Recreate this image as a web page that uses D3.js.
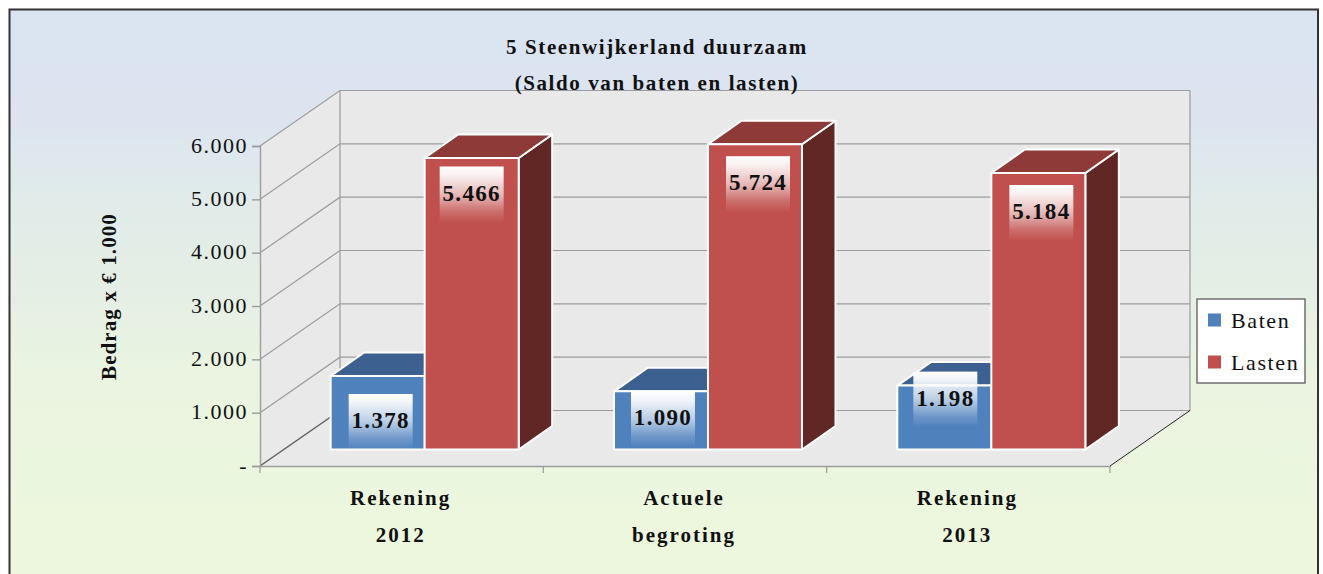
<!DOCTYPE html>
<html lang="nl">

<head>
    <meta charset="UTF-8">
    <script src="https://cdn.jsdelivr.net/npm/d3@7/dist/d3.min.js" charset="utf-8"></script>
    <title>5 Steenwijkerland duurzaam</title>
    <style>
        html, body { margin: 0; padding: 0; background: #fff; overflow: hidden; }
        svg { display: block; }
        text { font-family: "Liberation Serif", serif; fill: #111; }
    </style>
</head>

<body>
    <script>
        var categories = ["Rekening 2012", "Actuele begroting", "Rekening 2013"];
        var seriesNames = ["Baten", "Lasten"];
        var baten = [1378, 1090, 1198];
        var lasten = [5466, 5724, 5184];
        var yTicks = [0, 1000, 2000, 3000, 4000, 5000, 6000];
        var titleLines = ["5 Steenwijkerland duurzaam", "(Saldo van baten en lasten)"];
        var yTitle = "Bedrag x € 1.000";

        var width = 1323;
        var height = 574;

        // the 3d box: front plane of the axis, back wall offset, bar planes
        var wall = { dx: 80, dy: -55.5 };
        var barFront = { dx: 23, dy: -16.5 };
        var barDepth = { dx: 33.5, dy: -23.5 };
        var colors = {
            Baten: { front: "#4f81bd", top: "#3c6190", side: "#2f4d72" },
            Lasten: { front: "#c0504d", top: "#8e3a38", side: "#602725" }
        };
        // the data labels were moved by hand in the original chart
        var labelNudge = {
            Baten: [[3, 44], [2, 26], [1, 12]],
            Lasten: [[0, 34.5], [3, 38], [3, 38]]
        };

        var nl = d3.formatLocale({ decimal: ",", thousands: ".", grouping: [3], currency: ["", ""] });
        var fmt = nl.format(",d");

        var x0 = d3.scaleBand().domain(categories).range([260, 1110]);
        var x1 = d3.scaleBand().domain(seriesNames).range([0, x0.bandwidth()]).paddingOuter(0.507);
        var y = d3.scaleLinear().domain([0, 6000]).range([466, 146]);

        var svg = d3.select("body").append("svg").attr("width", width).attr("height", height);
        var defs = svg.append("defs");

        var bg = defs.append("linearGradient").attr("id", "bg").attr("x1", 0).attr("x2", 0).attr("y1", 0).attr("y2", 1);
        [[0, "#dae5f1"], [0.12, "#dbe4f0"], [0.15, "#dde3ef"], [0.19, "#dde4ef"], [0.215, "#dde7ee"], [0.33, "#e1ece9"],
         [0.468, "#e6efe4"], [0.58, "#eaf4e1"], [0.85, "#ecf7dd"]].forEach(function (s) {
            bg.append("stop").attr("offset", s[0]).attr("stop-color", s[1]);
        });

        var fade = defs.append("linearGradient").attr("id", "fade").attr("x1", 0).attr("x2", 0).attr("y1", 0).attr("y2", 1);
        [[0, 1], [0.15, 0.92], [0.5, 0.6], [0.8, 0.18], [1, 0]].forEach(function (s) {
            fade.append("stop").attr("offset", s[0]).attr("stop-color", "#fff").attr("stop-opacity", s[1]);
        });

        svg.append("rect").attr("x", 9.5).attr("y", 9.5).attr("width", 1308.5).attr("height", 620)
            .attr("fill", "url(#bg)").attr("stroke", "#333").attr("stroke-width", 2);

        // walls and floor
        var xL = x0.range()[0], xR = x0.range()[1];
        function pts(a) { return a.map(function (p) { return p.join(","); }).join(" "); }
        var wallFill = "#e9e9e9";
        svg.append("polygon").attr("fill", wallFill).attr("points", pts([
            [xL, y(6000)], [xL + wall.dx, y(6000) + wall.dy], [xL + wall.dx, y(0) + wall.dy], [xL, y(0)]]));
        svg.append("polygon").attr("fill", wallFill).attr("points", pts([
            [xL + wall.dx, y(6000) + wall.dy], [xR + wall.dx, y(6000) + wall.dy], [xR + wall.dx, y(0) + wall.dy], [xL + wall.dx, y(0) + wall.dy]]));
        svg.append("polygon").attr("fill", wallFill).attr("points", pts([
            [xL, y(0)], [xL + wall.dx, y(0) + wall.dy], [xR + wall.dx, y(0) + wall.dy], [xR, y(0)]]));

        // gridlines
        var grid = svg.append("g").attr("fill", "none").attr("stroke", "#9c9c9c").attr("stroke-width", 1.2);
        yTicks.forEach(function (t) {
            grid.append("polyline").attr("points", pts([[xL, y(t)], [xL + wall.dx, y(t) + wall.dy], [xR + wall.dx, y(t) + wall.dy]]));
        });
        grid.append("line").attr("x1", xL + wall.dx).attr("x2", xL + wall.dx).attr("y1", y(6000) + wall.dy).attr("y2", y(0) + wall.dy);
        grid.append("line").attr("x1", xR + wall.dx).attr("x2", xR + wall.dx).attr("y1", y(6000) + wall.dy).attr("y2", y(0) + wall.dy);
        svg.append("line").attr("x1", xL).attr("y1", y(0)).attr("x2", xL + wall.dx).attr("y2", y(0) + wall.dy).attr("stroke", "#666").attr("stroke-width", 1.2);
        svg.append("line").attr("x1", xR).attr("y1", y(0)).attr("x2", xR + wall.dx).attr("y2", y(0) + wall.dy).attr("stroke", "#222").attr("stroke-width", 1);

        // y axis
        var yAxis = d3.axisLeft(y).tickValues(yTicks).tickSize(8).tickPadding(4).tickFormat(function (d) {
            return d === 0 ? "-" : fmt(d);
        });
        var yG = svg.append("g").attr("transform", "translate(" + xL + ",0)").call(yAxis);
        yG.selectAll("line,path").attr("stroke", "#9c9c9c").attr("stroke-width", 1.4);
        yG.selectAll("text").style("font-size", "22px").style("letter-spacing", "1.5px").style("font-family", '"Liberation Serif", serif').attr("fill", "#222").attr("dy", "0.28em");

        // x axis
        var xAxis = d3.axisBottom(x0).tickSize(0).tickFormat("");
        var xG = svg.append("g").attr("transform", "translate(0," + y(0) + ")").call(xAxis);
        xG.select("path").attr("stroke", "#9c9c9c").attr("stroke-width", 1.6);
        xG.selectAll(".tick").remove();
        var xEdges = categories.map(function (c) { return x0(c); }).concat([xR]);
        svg.append("g").selectAll("line").data(xEdges).enter().append("line")
            .attr("x1", function (d) { return d; }).attr("x2", function (d) { return d; })
            .attr("y1", y(0)).attr("y2", y(0) + 7).attr("stroke", "#9c9c9c").attr("stroke-width", 1.2);

        // bars
        var rows = [];
        categories.forEach(function (c, i) {
            rows.push({ cat: c, name: "Baten", value: baten[i], i: i });
            rows.push({ cat: c, name: "Lasten", value: lasten[i], i: i });
        });
        function bx(d) { return x0(d.cat) + x1(d.name) + barFront.dx; }
        var base = y(0) + barFront.dy;
        function by(d) { return y(d.value) + barFront.dy; }
        var bw = x1.bandwidth();

        var bars = svg.append("g").selectAll("g").data(rows).enter().append("g")
            .attr("stroke", "#fff").attr("stroke-width", 2).attr("stroke-linejoin", "round");
        bars.append("polygon").attr("fill", function (d) { return colors[d.name].side; }).attr("points", function (d) {
            var r = bx(d) + bw;
            return pts([[r, by(d)], [r + barDepth.dx, by(d) + barDepth.dy], [r + barDepth.dx, base + barDepth.dy], [r, base]]);
        });
        bars.append("polygon").attr("fill", function (d) { return colors[d.name].top; }).attr("points", function (d) {
            var l = bx(d);
            return pts([[l, by(d)], [l + barDepth.dx, by(d) + barDepth.dy], [l + bw + barDepth.dx, by(d) + barDepth.dy], [l + bw, by(d)]]);
        });
        bars.append("rect").attr("fill", function (d) { return colors[d.name].front; })
            .attr("x", bx).attr("y", by).attr("width", bw).attr("height", function (d) { return base - by(d); });

        // data labels with the white fading box
        var labels = svg.append("g").selectAll("g").data(rows).enter().append("g")
            .attr("transform", function (d) {
                var n = labelNudge[d.name][d.i];
                return "translate(" + (bx(d) + bw / 2 + n[0]) + "," + (by(d) + n[1]) + ")";
            });
        labels.append("rect").attr("x", -32).attr("y", -26).attr("width", 64).attr("height", 56).attr("fill", "url(#fade)");
        labels.append("text").attr("text-anchor", "middle").attr("dy", "0.35em")
            .style("font-size", "23px").style("font-weight", "bold").style("letter-spacing", "1.3px")
            .text(function (d) { return fmt(d.value); });

        // titles
        svg.append("g").selectAll("text").data(titleLines).enter().append("text")
            .attr("x", 657).attr("y", function (d, i) { return 47 + i * 36; }).attr("dy", "0.35em")
            .attr("text-anchor", "middle").style("font-size", "21px").style("font-weight", "bold").style("letter-spacing", "1.6px")
            .text(function (d) { return d; });

        svg.append("text").attr("transform", "translate(109,296.5) rotate(-90)").attr("text-anchor", "middle").attr("dy", "0.35em")
            .style("font-size", "21px").style("font-weight", "bold").style("letter-spacing", "1.1px").text(yTitle);

        // category labels on two lines
        categories.forEach(function (c) {
            var words = c.split(" ");
            words.forEach(function (w, i) {
                svg.append("text").attr("x", x0(c) + x0.bandwidth() / 2 - 1).attr("y", 498 + i * 37).attr("dy", "0.35em")
                    .attr("text-anchor", "middle").style("font-size", "21px").style("font-weight", "bold").style("letter-spacing", "2px").text(w);
            });
        });

        // legend
        var legend = svg.append("g");
        legend.append("rect").attr("x", 1197).attr("y", 299).attr("width", 108).attr("height", 84)
            .attr("fill", "#fff").attr("stroke", "#666").attr("stroke-width", 1.4);
        var legendY = d3.scalePoint().domain(seriesNames).range([320, 362]);
        var li = legend.selectAll("g").data(seriesNames).enter().append("g")
            .attr("transform", function (d) { return "translate(1208," + legendY(d) + ")"; });
        li.append("rect").attr("y", -6.5).attr("width", 13).attr("height", 13).attr("fill", function (d) { return colors[d].front; });
        li.append("text").attr("x", 23).attr("dy", "0.35em").style("font-size", "22px").style("letter-spacing", "1.6px").text(function (d) { return d; });
    </script>
</body>

</html>
